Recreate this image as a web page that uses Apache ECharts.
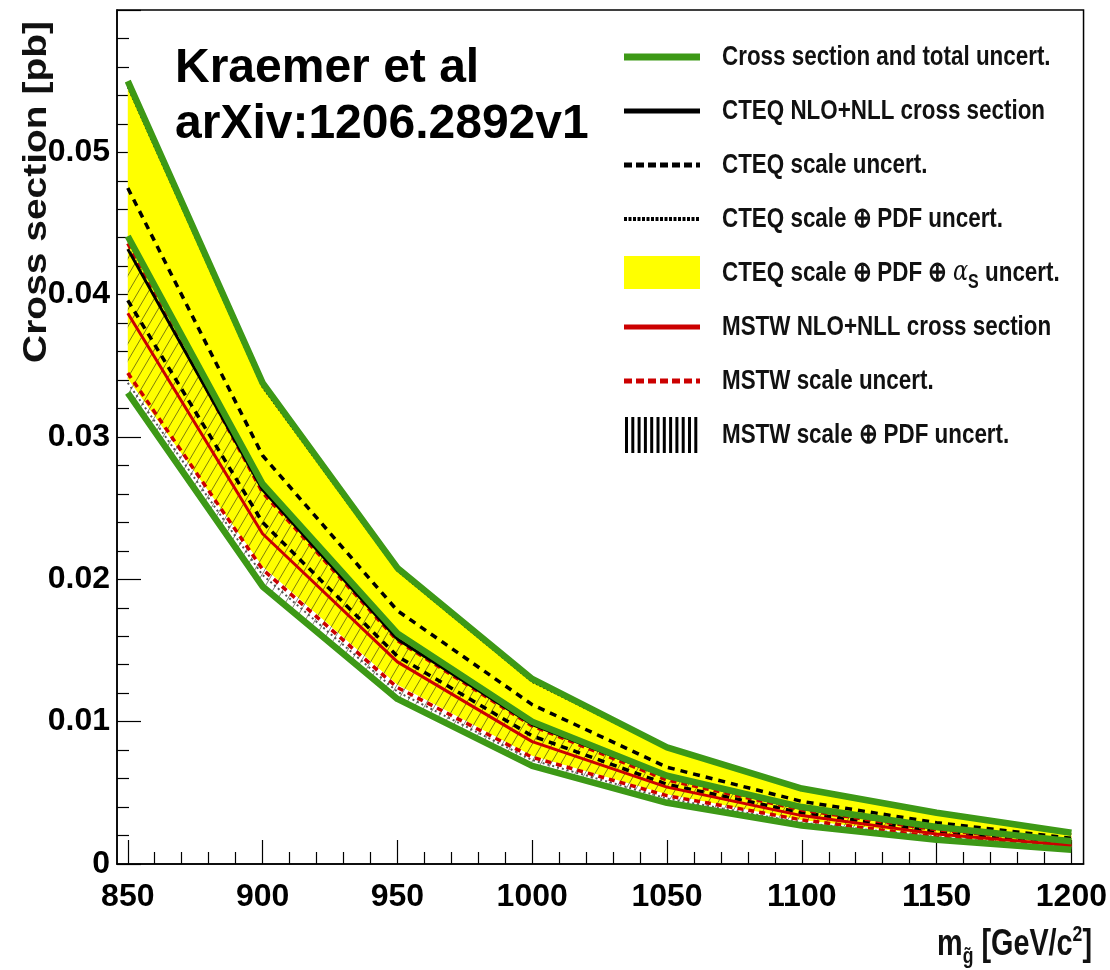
<!DOCTYPE html>
<html><head><meta charset="utf-8">
<script src="https://cdn.jsdelivr.net/npm/echarts@6/dist/echarts.min.js"></script>
<style>html,body{margin:0;padding:0;background:#fff}#c{width:1110px;height:970px}</style>
</head><body><div id="c"></div>
<script>
// ---- data (gluino mass in GeV/c^2, cross section in pb) ----
const mass = [850, 900, 950, 1000, 1050, 1100, 1150, 1200];
const totalUp      = [0.0550, 0.0338, 0.0208, 0.0130, 0.0082, 0.0053, 0.0036, 0.0022];
const totalCentral = [0.0441, 0.0267, 0.0162, 0.0100, 0.0062, 0.0040, 0.0026, 0.0016];
const totalDown    = [0.0331, 0.0195, 0.0116, 0.0069, 0.0043, 0.0027, 0.0017, 0.0010];
const cteqCentral  = [0.0432, 0.0263, 0.0158, 0.0098, 0.0061, 0.0039, 0.0025, 0.0016];
const cteqScaleUp  = [0.0475, 0.0287, 0.0178, 0.0112, 0.0068, 0.0044, 0.0029, 0.0018];
const cteqScaleDown= [0.0396, 0.0240, 0.0146, 0.0090, 0.0056, 0.0036, 0.0023, 0.0014];
const cteqScalePdfUp   = [0.0546, 0.0335, 0.0206, 0.0128, 0.0081, 0.0052, 0.0035, 0.0021];
const cteqScalePdfDown = [0.0338, 0.0203, 0.0121, 0.0073, 0.0046, 0.0029, 0.0019, 0.0011];
const cteqAllUp    = [0.0550, 0.0338, 0.0208, 0.0130, 0.0082, 0.0053, 0.0036, 0.0022];
const cteqAllDown  = [0.0341, 0.0209, 0.0126, 0.0076, 0.0049, 0.0031, 0.0020, 0.0012];
const mstwCentral  = [0.0387, 0.0232, 0.0142, 0.0086, 0.0054, 0.0034, 0.0021, 0.0013];
const mstwScaleUp  = [0.0436, 0.0261, 0.0157, 0.0097, 0.0059, 0.0038, 0.0024, 0.0015];
const mstwScaleDown= [0.0345, 0.0207, 0.0124, 0.0075, 0.0048, 0.0031, 0.0019, 0.0012];
const mstwScalePdfUp   = [0.0440, 0.0265, 0.0160, 0.0099, 0.0061, 0.0039, 0.0025, 0.0016];
const mstwScalePdfDown = [0.0333, 0.0197, 0.0118, 0.0071, 0.0044, 0.0028, 0.0018, 0.0011];

const xMajorTicks = [850, 900, 950, 1000, 1050, 1100, 1150, 1200];
const xMinorTicks = [860, 870, 880, 890, 910, 920, 930, 940, 960, 970, 980, 990,
                     1010, 1020, 1030, 1040, 1060, 1070, 1080, 1090, 1110, 1120, 1130, 1140,
                     1160, 1170, 1180, 1190];
const yTickLabels = [0, 0.01, 0.02, 0.03, 0.04, 0.05];

const legendLabels = [
  'Cross section and total uncert.',
  'CTEQ NLO+NLL cross section',
  'CTEQ scale uncert.',
  'CTEQ scale \u2295 PDF uncert.',
  'CTEQ scale \u2295 PDF \u2295 {g|\u03b1}{sub|S} uncert.',
  'MSTW NLO+NLL cross section',
  'MSTW scale uncert.',
  'MSTW scale \u2295 PDF uncert.'
];
const annotation = ['Kraemer et al', 'arXiv:1206.2892v1'];
const yTitle = 'Cross section [pb]';

// ---- styles ----
const GREEN = '#3d9916', YELLOW = '#ffff00', RED = '#cc0000', BLACK = '#000000';
const SANS = "'Liberation Sans', Arial, sans-serif";

// hatch pattern canvas
function makeHatch() {
  const w = 10, h = 17;
  const c = document.createElement('canvas');
  c.width = w; c.height = h;
  const g = c.getContext('2d');
  g.strokeStyle = 'rgba(40,40,20,0.6)';
  g.lineWidth = 1;
  for (const off of [-w, 0, w]) {
    g.beginPath(); g.moveTo(off, h); g.lineTo(off + w, 0); g.stroke();
  }
  return c;
}
const hatchPattern = { image: makeHatch(), repeat: 'repeat' };

function pts(arr) { return mass.map((m, i) => [m, arr[i]]); }

function bandSeries(name, lo, hi, fill, z) {
  return {
    type: 'custom', name, z, silent: true, animation: false,
    xAxisIndex: 0, yAxisIndex: 0,
    data: mass.map((m, i) => [m, lo[i], hi[i]]),
    encode: { x: 0, y: [1, 2] },
    renderItem(params, api) {
      if (params.dataIndex !== 0) return null;
      const n = params.dataInsideLength;
      const top = [], bot = [];
      for (let i = 0; i < n; i++) {
        top.push(api.coord([api.value(0, i), api.value(2, i)]));
        bot.push(api.coord([api.value(0, i), api.value(1, i)]));
      }
      return { type: 'polygon', shape: { points: top.concat(bot.reverse()) },
               style: { fill: fill, stroke: null } };
    }
  };
}
function lineSeries(name, arr, color, width, dash, z) {
  return {
    type: 'line', name, z, silent: true, animation: false,
    xAxisIndex: 0, yAxisIndex: 0,
    data: pts(arr), symbol: 'none', clip: true,
    lineStyle: { color, width, type: dash || 'solid', cap: 'butt', join: 'round' }
  };
}

const series = [
  bandSeries('CTEQ scale+PDF+as', cteqAllDown, cteqAllUp, YELLOW, 1),
  bandSeries('MSTW scale+PDF', mstwScalePdfDown, mstwScalePdfUp, hatchPattern, 2),
  lineSeries('CTEQ scale+PDF up', cteqScalePdfUp, BLACK, 2, [2, 2], 3),
  lineSeries('CTEQ scale+PDF down', cteqScalePdfDown, '#555', 2, [2, 3], 3),
  lineSeries('CTEQ scale up', cteqScaleUp, BLACK, 3.5, [7, 6], 4),
  lineSeries('CTEQ scale down', cteqScaleDown, BLACK, 3.5, [7, 6], 4),
  lineSeries('MSTW scale up', mstwScaleUp, RED, 3.5, [6, 5], 4),
  lineSeries('MSTW scale down', mstwScaleDown, RED, 3.5, [6, 5], 4),
  lineSeries('MSTW central', mstwCentral, RED, 3, null, 5),
  lineSeries('CTEQ central', cteqCentral, BLACK, 3, null, 5),
  lineSeries('Total up', totalUp, GREEN, 6.5, null, 6),
  lineSeries('Total central', totalCentral, GREEN, 6.5, null, 6),
  lineSeries('Total down', totalDown, GREEN, 6.5, null, 6)
];

// ---- legend via graphic ----
const legendRowY0 = 57, legendRowGap = 54;
const legendKinds = [
  { kind: 'line', color: GREEN, width: 7 },
  { kind: 'line', color: BLACK, width: 5 },
  { kind: 'line', color: BLACK, width: 5, dash: [8, 4] },
  { kind: 'line', color: BLACK, width: 4, dash: [3, 1.5] },
  { kind: 'fill', color: YELLOW },
  { kind: 'line', color: RED, width: 5 },
  { kind: 'line', color: RED, width: 5, dash: [8, 4] },
  { kind: 'hatch' }
];
const graphic = [];
legendLabels.forEach((lab, i) => {
  const y = legendRowY0 + i * legendRowGap;
  const k = legendKinds[i];
  if (k.kind === 'line') {
    graphic.push({ type: 'line', silent: true, shape: { x1: 624, y1: y, x2: 700, y2: y },
      style: { stroke: k.color, lineWidth: k.width, lineDash: k.dash || null } });
  } else if (k.kind === 'fill') {
    graphic.push({ type: 'rect', silent: true, shape: { x: 624, y: y - 17, width: 76, height: 33 },
      style: { fill: k.color } });
  } else {
    for (let j = 0; j < 12; j++) {
      graphic.push({ type: 'rect', silent: true, shape: { x: 625 + j * 6.3, y: y - 18, width: 3, height: 36 },
        style: { fill: BLACK } });
    }
  }
  graphic.push({ type: 'text', silent: true, x: 722, y: y, scaleX: 0.8,
    style: { text: lab, fill: '#111', font: 'bold 28px ' + SANS, verticalAlign: 'middle', align: 'left',
      rich: {
        g: { fontSize: 28, fontFamily: 'DejaVu Serif', fontWeight: 'normal', fontStyle: 'italic', fill: '#111' },
        sub: { fontSize: 20, fontWeight: 'bold', fontFamily: SANS, padding: [18, 0, 0, 0], fill: '#111' }
      } } });
});
// annotation
graphic.push({ type: 'text', silent: true, x: 175, y: 41,
  style: { text: annotation.join('\n'), font: 'bold 48px ' + SANS, fill: '#000', lineHeight: 56, align: 'left', verticalAlign: 'top' } });
// y title
graphic.push({ type: 'text', silent: true, x: 37, y: 192, rotation: Math.PI / 2, scaleX: 1.18,
  style: { text: yTitle, font: 'bold 33px ' + SANS, fill: '#111', align: 'center', verticalAlign: 'middle' } });
// x title
graphic.push({ type: 'text', silent: true, x: 1092, y: 945, scaleX: 0.8,
  style: { text: 'm{sub|g\u0303} [GeV/c{sup|2}]', font: 'bold 36px ' + SANS, fill: '#111', align: 'right', verticalAlign: 'middle',
    rich: {
      sub: { fontSize: 22, fontWeight: 'bold', fontFamily: SANS, padding: [24, 0, 0, 0], fill: '#111' },
      sup: { fontSize: 22, fontWeight: 'bold', fontFamily: SANS, padding: [0, 0, 20, 0], fill: '#111' }
    } } });

const axisLineStyle = { color: '#000', width: 1.5 };
const option = {
  animation: false,
  backgroundColor: '#fff',
  grid: { left: 117, right: 25, top: 10, bottom: 106, show: true, borderColor: '#000', borderWidth: 1.5, backgroundColor: 'transparent' },
  xAxis: [
    { type: 'value', min: 846, max: 1204.5, position: 'bottom',
      axisLine: { show: true, lineStyle: axisLineStyle },
      axisTick: { show: true, inside: true, length: 24, lineStyle: { color: '#000', width: 1.2 }, customValues: xMajorTicks },
      axisLabel: { show: true, customValues: xMajorTicks, margin: 17, color: '#000',
        fontFamily: SANS, fontWeight: 'bold', fontSize: 32, formatter: v => String(v) },
      splitLine: { show: false } },
    { type: 'value', min: 846, max: 1204.5, position: 'bottom',
      axisLine: { show: false },
      axisTick: { show: true, inside: true, length: 12, lineStyle: { color: '#000', width: 1.2 }, customValues: xMinorTicks },
      axisLabel: { show: false },
      splitLine: { show: false } }
  ],
  yAxis: [
    { type: 'value', min: 0, max: 0.06, interval: 0.01,
      axisLine: { show: true, lineStyle: axisLineStyle },
      axisTick: { show: true, inside: true, length: 24, lineStyle: { color: '#000', width: 1.2 } },
      minorTick: { show: true, splitNumber: 5, length: 12, lineStyle: { color: '#000', width: 1.2 } },
      axisLabel: { show: true, customValues: yTickLabels, margin: 7, color: '#000',
        fontFamily: SANS, fontWeight: 'bold', fontSize: 32,
        formatter: v => (v === 0 ? '0' : v.toFixed(2)) },
      splitLine: { show: false }, minorSplitLine: { show: false } }
  ],
  series,
  graphic
};
const chart = echarts.init(document.getElementById('c'), null, { renderer: 'canvas' });
chart.setOption(option);
</script></body></html>
